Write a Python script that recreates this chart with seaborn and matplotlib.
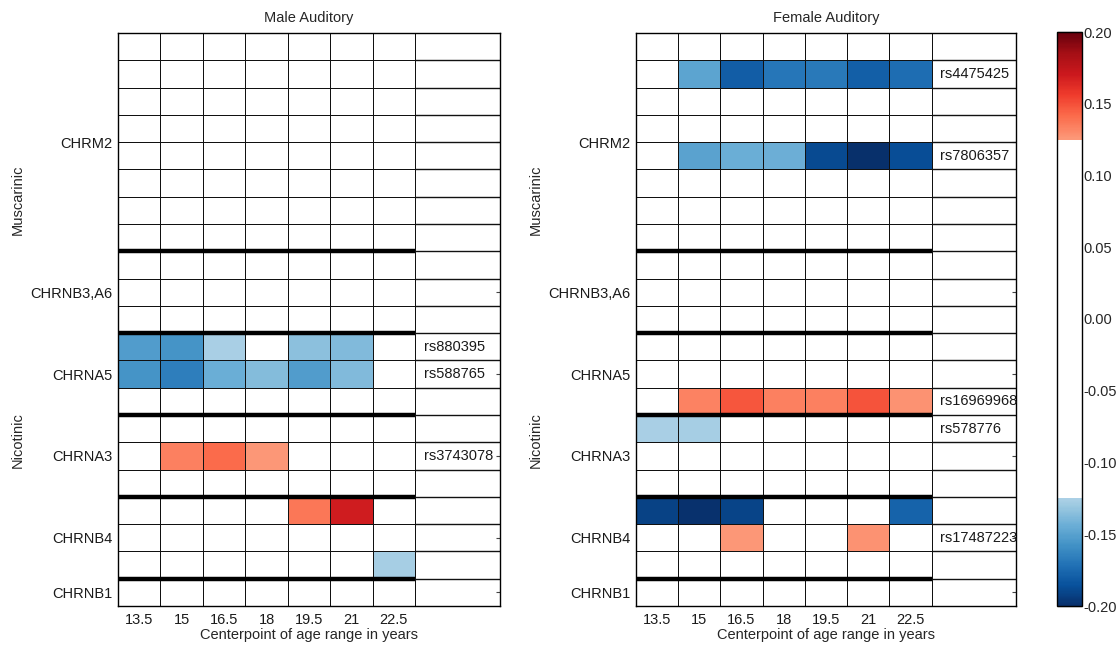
import numpy as np
import pandas as pd
import matplotlib
matplotlib.use("Agg")
import matplotlib.pyplot as plt
from matplotlib.colors import ListedColormap, Normalize
from matplotlib.cm import ScalarMappable
import seaborn as sns

sns.set_theme(style="white")
plt.rcParams["font.family"] = ["Liberation Sans", "DejaVu Sans"]
plt.rcParams["axes.unicode_minus"] = False

# ---------------- data ----------------
ages = ["13.5", "15", "16.5", "18", "19.5", "21", "22.5"]
genes = ["CHRM2", "CHRNB3,A6", "CHRNA5", "CHRNA3", "CHRNB4", "CHRNB1"]
gene_rows = [8, 3, 3, 3, 3, 1]
n_rows = sum(gene_rows)

# Male auditory: significant SNP rows (row index in grid, label, values per age)
male_rows = [11, 12, 15, 17, 19]
male_labels = ["rs880395", "rs588765", "rs3743078", "", ""]
male_r11 = [-0.153, -0.157, -0.126, 0.0, -0.135, -0.138, 0.0]
male_r12 = [-0.157, -0.166, -0.144, -0.137, -0.153, -0.138, 0.0]
male_r15 = [0.0, 0.134, 0.142, 0.126, 0.0, 0.0, 0.0]
male_r17 = [0.0, 0.0, 0.0, 0.0, 0.137, 0.169, 0.0]
male_r19 = [0.0, 0.0, 0.0, 0.0, 0.0, 0.0, -0.127]

# Female auditory
female_rows = [1, 4, 13, 14, 17, 18]
female_labels = ["rs4475425", "rs7806357", "rs16969968", "rs578776", "", "rs17487223"]
female_r1 = [0.0, -0.149, -0.180, -0.169, -0.168, -0.179, -0.173]
female_r4 = [0.0, -0.150, -0.144, -0.143, -0.189, -0.200, -0.187]
female_r13 = [0.0, 0.133, 0.148, 0.134, 0.134, 0.149, 0.128]
female_r14 = [-0.126, -0.127, 0.0, 0.0, 0.0, 0.0, 0.0]
female_r17 = [-0.192, -0.199, -0.191, 0.0, 0.0, 0.0, -0.178]
female_r18 = [0.0, 0.0, 0.126, 0.0, 0.0, 0.128, 0.0]

cbar_ticks = [-0.20, -0.15, -0.10, -0.05, 0.00, 0.05, 0.10, 0.15, 0.20]


def build_matrix(rows, series):
    m = np.zeros((n_rows, len(ages)))
    for r, s in zip(rows, series):
        m[r] = s
    return pd.DataFrame(m, columns=ages)


male_df = build_matrix(male_rows, [male_r11, male_r12, male_r15, male_r17, male_r19])
female_df = build_matrix(female_rows, [female_r1, female_r4, female_r13, female_r14,
                                       female_r17, female_r18])

# ---------------- colormap: white below |0.125| ----------------
vmin, vmax, thr = -0.2, 0.2, 0.125
grid = np.linspace(vmin, vmax, 512)
blues = plt.get_cmap("Blues")
reds = plt.get_cmap("Reds")
cols = []
for v in grid:
    if v <= -thr:
        cols.append(blues(0.33 + (-thr - v) / (vmax - thr) * 0.67))
    elif v >= thr:
        cols.append(reds(0.35 + (v - thr) / (vmax - thr) * 0.65))
    else:
        cols.append((1, 1, 1, 1))
cmap = ListedColormap(cols)

# ---------------- figure ----------------
fs = 10.5
fig = plt.figure(figsize=(11.2, 6.49), dpi=100)
ax_m = fig.add_axes([118 / 1120, 1 - 606 / 649, 382 / 1120, 573 / 649])
ax_f = fig.add_axes([636 / 1120, 1 - 606 / 649, 380 / 1120, 573 / 649])
cax = fig.add_axes([1057 / 1120, 1 - 606 / 649, 25 / 1120, 574 / 649])

# gene tick positions (centre of each gene block)
bounds = np.cumsum([0] + gene_rows)
gene_ticks = [(bounds[i] + bounds[i + 1]) / 2 for i in range(len(genes))]
thick_lines = bounds[1:-1]

line_c = "#111111"
lw = 0.55


def draw(ax, df, rows, labels, title):
    sns.heatmap(df, ax=ax, cmap=cmap, vmin=vmin, vmax=vmax, cbar=False,
                linewidths=lw, linecolor=line_c, xticklabels=ages, yticklabels=False)
    ax.set_xlim(0, len(ages) + 2)
    ax.set_ylim(n_rows, 0)
    ax.hlines(np.arange(1, n_rows), len(ages), len(ages) + 2, color=line_c, lw=1.0)
    ax.hlines(thick_lines, 0, len(ages), color="black", lw=3.2)
    for sp in ax.spines.values():
        sp.set_visible(True)
        sp.set_color("black")
        sp.set_linewidth(1.0)
    ax.set_yticks(gene_ticks)
    ax.set_yticklabels(genes, fontsize=fs, color="#1a1a1a")
    ax.set_xticks(np.arange(len(ages)) + 0.5)
    ax.set_xticklabels(ages, fontsize=fs, rotation=0, color="#1a1a1a")
    ax.tick_params(axis="both", direction="in", length=3, width=0.8, color="#444444",
                   top=True, right=True, left=True, bottom=True, pad=5)
    ax.tick_params(axis="y", pad=4)
    ax.set_xlabel("Centerpoint of age range in years", fontsize=fs, labelpad=1)
    ax.set_ylabel("")
    ax.set_title(title, fontsize=fs, pad=8)
    for r, lab in zip(rows, labels):
        if lab:
            ax.text(len(ages) + 0.2, r + 0.5, lab, ha="left", va="center", fontsize=fs,
                    color="#1a1a1a")


draw(ax_m, male_df, male_rows, male_labels, "Male Auditory")
draw(ax_f, female_df, female_rows, female_labels, "Female Auditory")

for xpx in (18, 536):
    fig.text(xpx / 1120, 1 - 200 / 649, "Muscarinic", rotation=90, ha="center",
             va="center", fontsize=fs)
    fig.text(xpx / 1120, 1 - 440 / 649, "Nicotinic", rotation=90, ha="center",
             va="center", fontsize=fs)

sm = ScalarMappable(norm=Normalize(vmin, vmax), cmap=cmap)
cb = fig.colorbar(sm, cax=cax, ticks=cbar_ticks)
cb.ax.yaxis.set_major_formatter(matplotlib.ticker.FuncFormatter(lambda x, p: f"{x:.2f}"))
cb.ax.tick_params(direction="in", length=18, width=0.9, color="#333333", labelsize=fs, pad=1)
cb.outline.set_edgecolor("black")
cb.outline.set_linewidth(1.0)

fig.savefig("out.png", dpi=100)
